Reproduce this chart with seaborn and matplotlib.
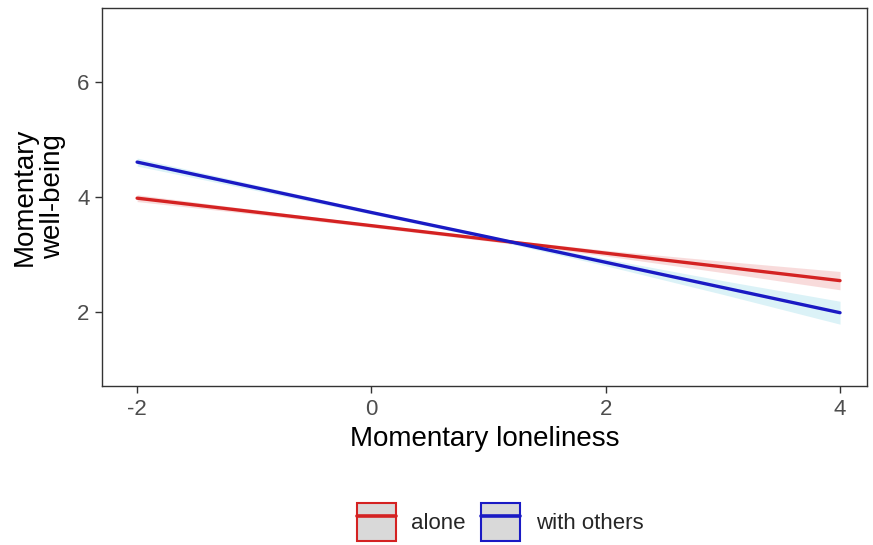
import matplotlib
matplotlib.use("Agg")
import matplotlib.pyplot as plt
from matplotlib.patches import Patch
from matplotlib.lines import Line2D
import seaborn as sns
import pandas as pd

# values
loneliness = [-2, -1, 0, 1, 2, 3, 4]
alone_fit = [3.98, 3.74, 3.50, 3.26, 3.02, 2.78, 2.54]
alone_lo = [3.92, 3.70, 3.47, 3.23, 2.97, 2.68, 2.38]
alone_hi = [4.04, 3.78, 3.53, 3.29, 3.07, 2.88, 2.70]
others_fit = [4.61, 4.17, 3.73, 3.30, 2.86, 2.42, 1.98]
others_lo = [4.54, 4.12, 3.70, 3.27, 2.80, 2.30, 1.78]
others_hi = [4.68, 4.22, 3.76, 3.33, 2.92, 2.54, 2.18]

groups = ["alone", "with others"]
line_colors = {"alone": "#d42222", "with others": "#1a1ac4"}
band_colors = {"alone": "#f7d3d3", "with others": "#d2eff5"}

df = pd.DataFrame({
    "x": loneliness * 2,
    "y": alone_fit + others_fit,
    "lo": alone_lo + others_lo,
    "hi": alone_hi + others_hi,
    "group": ["alone"] * len(loneliness) + ["with others"] * len(loneliness),
})

sns.set_theme(style="white")
plt.rcParams["font.family"] = ["Liberation Sans", "DejaVu Sans"]

fig = plt.figure(figsize=(8.73, 5.45), dpi=100)
ax = fig.add_axes([0.1168, 0.2917, 0.8763, 0.6936])

for g in groups:
    sub = df[df["group"] == g]
    ax.fill_between(sub["x"], sub["lo"], sub["hi"], color=band_colors[g],
                    alpha=0.8, linewidth=0, zorder=1)

sns.lineplot(data=df, x="x", y="y", hue="group", palette=line_colors,
             linewidth=2.4, legend=False, ax=ax, zorder=2)

ax.set_xlim(-2.3, 4.23)
ax.set_ylim(0.7, 7.3)
ax.set_xticks([-2, 0, 2, 4])
ax.set_xticklabels(["-2", "0", "2", "4"])
ax.set_yticks([2, 4, 6])
ax.tick_params(axis="both", which="both", length=5, width=1, color="#333333",
               labelcolor="#4d4d4d", labelsize=16, direction="out",
               bottom=True, left=True, pad=4)
for s in ax.spines.values():
    s.set_color("#333333")
    s.set_linewidth(1.0)

ax.set_xlabel("Momentary loneliness", fontsize=20, color="black", labelpad=5)
ax.set_ylabel("Momentary\nwell-being", fontsize=20, color="black",
              labelpad=8, linespacing=1.1)

handles = [(Patch(facecolor="#d9d9d9", edgecolor=line_colors[g], linewidth=1.5),
            Line2D([], [], color=line_colors[g], linewidth=2.6)) for g in groups]
fig.legend(handles, groups, loc="center", bbox_to_anchor=(0.573, 0.042),
           ncol=2, frameon=False, fontsize=16, handlelength=1.75,
           handleheight=2.2, handletextpad=0.7, columnspacing=0.7)

fig.savefig("out.png", dpi=100)
